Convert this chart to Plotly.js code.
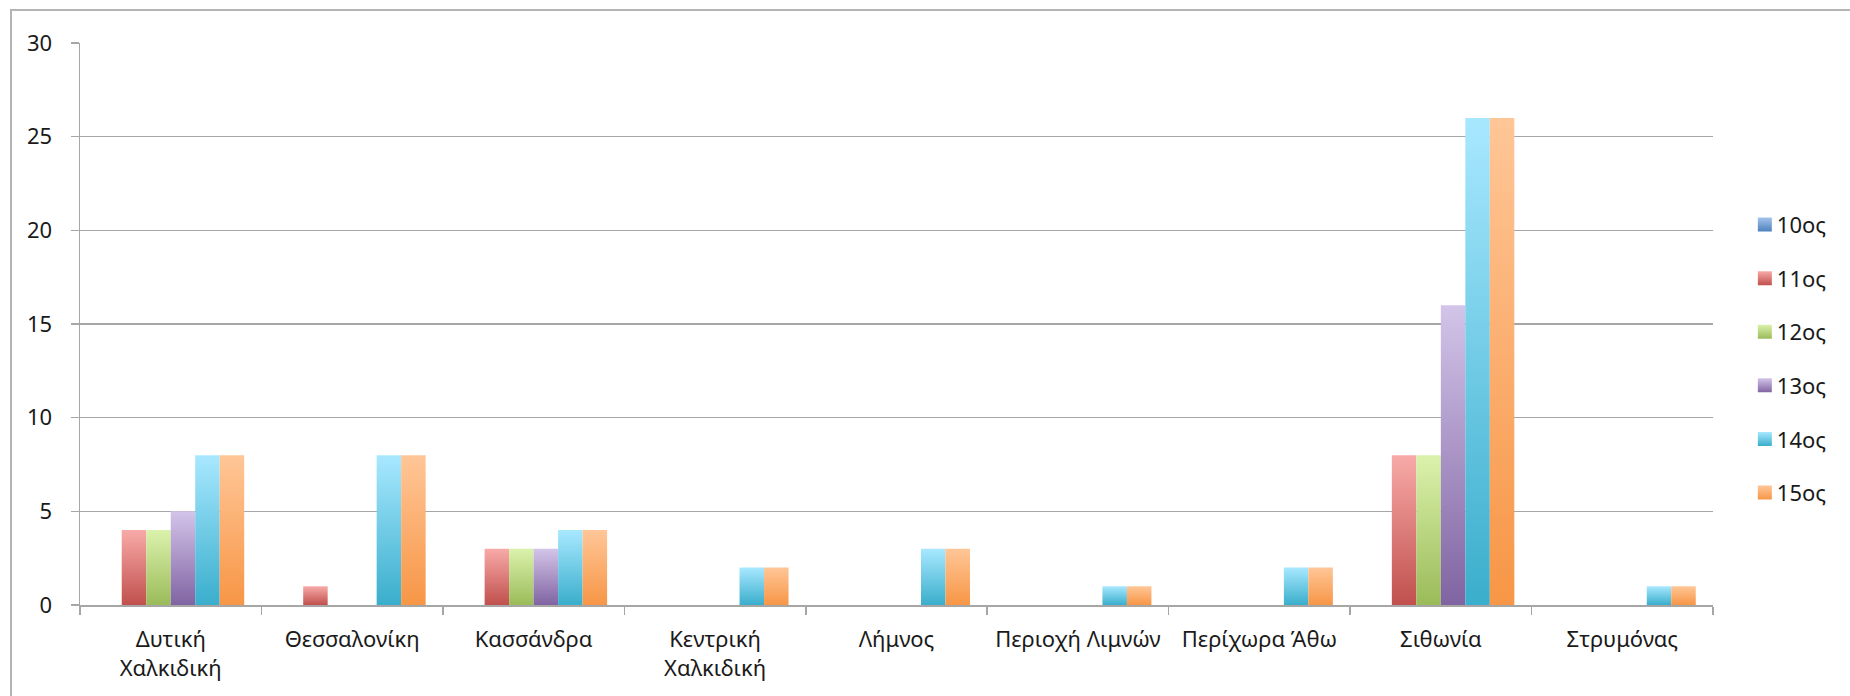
<!DOCTYPE html>
<html>
<head>
<meta charset="utf-8">
<script src="https://cdn.plot.ly/plotly-3.0.1.min.js"></script>
<style>
  html, body { margin: 0; padding: 0; background: #ffffff; }
  #wrap { position: relative; width: 1850px; height: 696px; overflow: hidden; }
  #chart { position: absolute; left: 0; top: 0; width: 1850px; height: 696px; }
  #frame { position: absolute; left: 10px; top: 9px; width: 1900px; height: 800px;
           border-left: 2.5px solid #b4b4b4; border-top: 2.5px solid #b4b4b4; pointer-events: none; }
</style>
</head>
<body>
<div id="wrap">
  <div id="chart"></div>
  <div id="frame"></div>
</div>
<script>
// ---- data ----
const categories = [
  "Δυτική<br>Χαλκιδική", "Θεσσαλονίκη", "Κασσάνδρα", "Κεντρική<br>Χαλκιδική",
  "Λήμνος", "Περιοχή Λιμνών", "Περίχωρα Άθω", "Σιθωνία", "Στρυμόνας"
];
const seriesNames = ["10ος", "11ος", "12ος", "13ος", "14ος", "15ος"];
const s10 = [0, 0, 0, 0, 0, 0, 0, 0, 0];
const s11 = [4, 1, 3, 0, 0, 0, 0, 8, 0];
const s12 = [4, 0, 3, 0, 0, 0, 0, 8, 0];
const s13 = [5, 0, 3, 0, 0, 0, 0, 16, 0];
const s14 = [8, 8, 4, 2, 3, 1, 2, 26, 1];
const s15 = [8, 8, 4, 2, 3, 1, 2, 26, 1];
const yTicks = [0, 5, 10, 15, 20, 25, 30];

// ---- styles ----
const baseColors = ["#4F81BD", "#C0504D", "#9BBB59", "#8064A2", "#3AAECC", "#F79646"];
const topColors  = ["#A3C3EE", "#F8AAA8", "#DBF2AC", "#D3C4E9", "#A8E8FF", "#FFC697"];

const allSeries = [s10, s11, s12, s13, s14, s15];
const FONT = '"Noto Sans", "DejaVu Sans", sans-serif';
const GRID = "#a6a6a6";

const traces = allSeries.map((vals, i) => ({
  type: "bar",
  name: seriesNames[i],
  x: categories,
  y: vals,
  legendgroup: "g" + i,
  marker: { color: baseColors[i], line: { width: 0 } },
  hoverinfo: "x+y+name"
}));

const layout = {
  width: 1850,
  height: 696,
  paper_bgcolor: "#ffffff",
  plot_bgcolor: "#ffffff",
  margin: { l: 80, r: 137, t: 43, b: 91, autoexpand: false },
  font: { family: FONT, size: 22, color: "#1a1a1a" },
  barmode: "group",
  bargap: 0.19,
  bargroupgap: 0,
  showlegend: true,
  legend: {
    x: 1.0195, xanchor: "left",
    y: 0.714, yanchor: "top",
    font: { family: FONT, size: 22, color: "#1a1a1a" },
    tracegroupgap: 22,
    bgcolor: "rgba(0,0,0,0)",
    borderwidth: 0
  },
  xaxis: {
    type: "category",
    showline: true, linecolor: GRID, linewidth: 1.5,
    ticks: "outside", tickson: "boundaries", ticklen: 8, tickwidth: 1.5, tickcolor: GRID,
    showgrid: false, zeroline: false,
    tickangle: 0,
    ticklabelstandoff: 14,
    tickfont: { family: FONT, size: 22, color: "#1a1a1a" },
    automargin: false
  },
  yaxis: {
    range: [0, 30], autorange: false,
    tickmode: "array", tickvals: yTicks, ticktext: yTicks.map(String),
    showline: true, linecolor: GRID, linewidth: 1.5,
    ticks: "outside", ticklen: 8, tickwidth: 1.5, tickcolor: GRID,
    showgrid: true, gridcolor: GRID, gridwidth: 1.5,
    zeroline: false,
    ticklabelstandoff: 14,
    tickfont: { family: FONT, size: 22, color: "#1a1a1a" },
    automargin: false
  }
};

function applyGradients(gd) {
  const svg = gd.querySelector("svg.main-svg");
  if (!svg) return;
  const NS = "http://www.w3.org/2000/svg";
  let defs = svg.querySelector("defs");
  if (!defs) { defs = document.createElementNS(NS, "defs"); svg.insertBefore(defs, svg.firstChild); }
  baseColors.forEach((c, i) => {
    const id = "bargrad" + i;
    if (document.getElementById(id)) return;
    const lg = document.createElementNS(NS, "linearGradient");
    lg.setAttribute("id", id);
    lg.setAttribute("x1", "0"); lg.setAttribute("y1", "0");
    lg.setAttribute("x2", "0"); lg.setAttribute("y2", "1");
    const s1 = document.createElementNS(NS, "stop");
    s1.setAttribute("offset", "0"); s1.setAttribute("stop-color", topColors[i]);
    const s2 = document.createElementNS(NS, "stop");
    s2.setAttribute("offset", "1"); s2.setAttribute("stop-color", c);
    lg.appendChild(s1); lg.appendChild(s2);
    defs.appendChild(lg);
  });
  gd.querySelectorAll(".barlayer .trace").forEach((g, i) => {
    g.querySelectorAll("path").forEach(p => { p.style.fill = "url(#bargrad" + i + ")"; });
  });
  gd.querySelectorAll(".legend .traces").forEach((g, i) => {
    g.querySelectorAll(".legendpoints path").forEach(p => {
      p.setAttribute("d", "M7,7H-7V-7H7Z");
      p.style.fill = "url(#bargrad" + i + ")";
      p.style.stroke = "none";
    });
    g.querySelectorAll("text.legendtext").forEach(t => { t.setAttribute("x", "32"); });
  });
}

const gd = document.getElementById("chart");
Plotly.newPlot(gd, traces, layout, { displayModeBar: false, staticPlot: true }).then(() => {
  applyGradients(gd);
  gd.on && gd.on("plotly_afterplot", () => applyGradients(gd));
});
</script>
</body>
</html>
